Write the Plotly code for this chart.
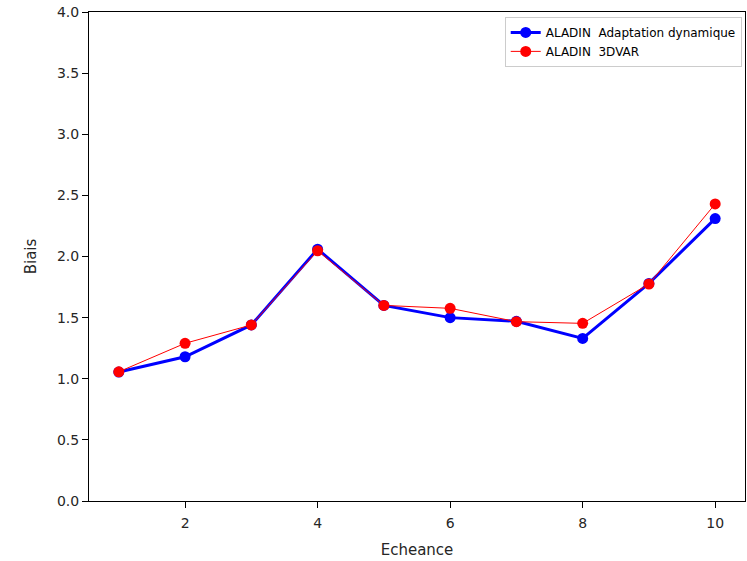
import plotly.graph_objects as go

echeance = [1, 2, 3, 4, 5, 6, 7, 8, 9, 10]
biais_adapt = [1.055, 1.18, 1.44, 2.06, 1.60, 1.50, 1.47, 1.33, 1.78, 2.31]
biais_3dvar = [1.057, 1.29, 1.44, 2.047, 1.60, 1.576, 1.467, 1.453, 1.775, 2.43]
names = ["ALADIN  Adaptation dynamique", "ALADIN  3DVAR"]

fig = go.Figure()
fig.add_trace(go.Scatter(x=echeance, y=biais_adapt, mode="lines+markers", name=names[0],
                         line=dict(color="#0000ff", width=3),
                         marker=dict(color="#0000ff", size=11)))
fig.add_trace(go.Scatter(x=echeance, y=biais_3dvar, mode="lines+markers", name=names[1],
                         line=dict(color="#ff0000", width=1),
                         marker=dict(color="#ff0000", size=11)))

axis_common = dict(showline=True, linecolor="black", linewidth=1, mirror=True,
                   ticks="outside", ticklen=6, tickcolor="black", showgrid=False,
                   zeroline=False, tickfont=dict(family="DejaVu Sans", size=14, color="#262626"))
fig.update_xaxes(range=[0.55, 10.45], tickvals=[2, 4, 6, 8, 10], ticklabelstandoff=3,
                 title=dict(text="Echeance", font=dict(family="DejaVu Sans", size=15, color="#262626"), standoff=14),
                 **axis_common)
fig.update_yaxes(range=[0, 4], tickvals=[0, 0.5, 1, 1.5, 2, 2.5, 3, 3.5, 4],
                 ticktext=["0.0", "0.5", "1.0", "1.5", "2.0", "2.5", "3.0", "3.5", "4.0"],
                 title=dict(text="Biais", font=dict(family="DejaVu Sans", size=15, color="#262626"), standoff=16),
                 **axis_common)

fig.update_layout(
    width=747, height=561,
    margin=dict(l=89, r=2, t=12, b=60),
    plot_bgcolor="white", paper_bgcolor="white",
    legend=dict(x=0.995, y=0.99, xanchor="right", yanchor="top",
                bgcolor="rgba(255,255,255,0.8)", bordercolor="#cccccc", borderwidth=1,
                font=dict(family="DejaVu Sans", size=12, color="black"),
                tracegroupgap=0, itemwidth=30),
    showlegend=True,
)

fig.write_html("out.html")
